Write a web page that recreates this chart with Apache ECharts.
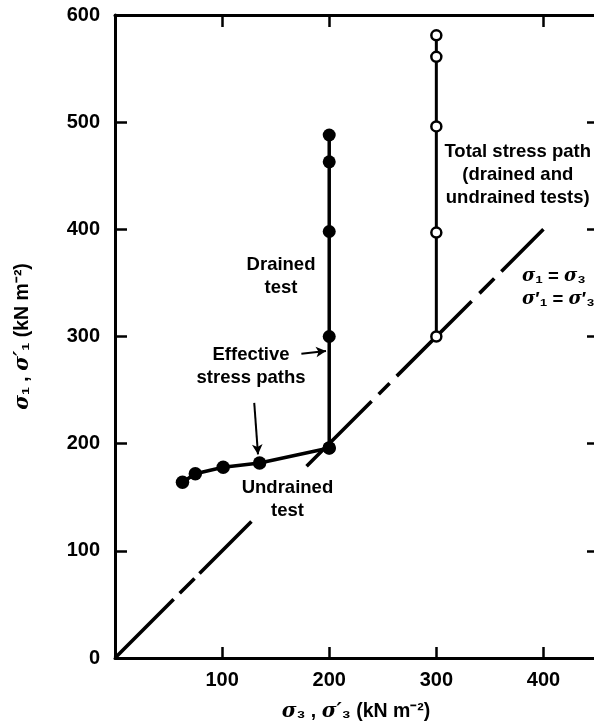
<!DOCTYPE html>
<html><head><meta charset="utf-8">
<script src="https://cdn.jsdelivr.net/npm/echarts@6/dist/echarts.min.js"></script>
<style>html,body{margin:0;padding:0;background:#fff}#c{width:594px;height:721px}</style>
</head><body><div id="c"></div>
<script>
// ---- data ----
const xTickLabels = [100, 200, 300, 400];
const bottomTicks = [0, 100, 200, 300, 400];
const yTickLabels = [0, 100, 200, 300, 400, 500, 600];
const drainedX = [200, 200, 200, 200, 200];
const drainedY = [196, 300, 398, 463, 488];
const undrainedX = [63, 75, 101, 135, 200];
const undrainedY = [164, 172, 178, 182, 196];
const totalX = [300, 300, 300, 300, 300];
const totalY = [300, 397, 496, 561, 581];
const diagX = [0, 400];
const diagY = [0, 400];
const topTicks = [100, 200, 400];
const rightTicks = [100, 200, 300, 400, 500];
const noteTexts = ['Drained\ntest', 'Effective\nstress paths', 'Undrained\ntest',
  'Total stress path\n(drained and\nundrained tests)', '{i|σ}₁ = {i|σ}₃\n{i|σ}′₁ = {i|σ}′₃'];
const noteX = [155, 127, 161, 376, 380];
const noteY = [356, 272, 148, 451, 345];
const arrowFromX = [174, 130];
const arrowFromY = [284, 238];
const arrowToX = [197, 133.5];
const arrowToY = [286.5, 190];

const zip = (a, b) => a.map((v, i) => [v, b[i]]);
const FONT = 'Liberation Sans';
const chart = echarts.init(document.getElementById('c'));
const mkLine = () => ({ show: true, onZero: false, lineStyle: { color: '#000', width: 3 } });
const tickStyle = { color: '#000', width: 2.5 };
const labelStyle = { color: '#000', fontSize: 20, fontWeight: 'bold', fontFamily: FONT };
const nameStyle = { color: '#000', fontSize: 19.5, fontWeight: 'bold', fontFamily: FONT,
  rich: { i: { fontStyle: 'italic', fontSize: 20, fontWeight: 'bold', fontFamily: 'DejaVu Serif' } } };
// hand-drawn style dash pattern of the 45-degree line (px)
const diagDash = [83, 8.5, 21, 7, 73.5, 78, 92, 10, 15.5, 10, 106, 11, 21, 10, 80, 40];

chart.setOption({
  animation: false,
  backgroundColor: '#fff',
  grid: { left: 115, right: -3, top: 15, bottom: 63, containLabel: false, outerBoundsMode: 'none' },
  xAxis: [{
    type: 'value', position: 'bottom', min: 0, max: 450, interval: 100,
    axisLine: mkLine(), axisTick: { inside: true, length: 11, lineStyle: tickStyle, customValues: bottomTicks },
    axisLabel: Object.assign({ margin: 12, customValues: xTickLabels }, labelStyle),
    splitLine: { show: false },
    name: '{i|σ}₃ , {i|σ′}₃ (kN m⁻²)', nameLocation: 'middle', nameGap: 44,
    nameTextStyle: nameStyle
  }, {
    type: 'value', position: 'top', min: 0, max: 450, interval: 100,
    axisLine: mkLine(), axisTick: { inside: true, length: 12, lineStyle: tickStyle, customValues: topTicks },
    axisLabel: { show: false }, splitLine: { show: false }
  }],
  yAxis: [{
    type: 'value', position: 'left', min: 0, max: 600, interval: 100,
    axisLine: mkLine(), axisTick: { inside: true, length: 12, lineStyle: tickStyle },
    axisLabel: Object.assign({ margin: 15, customValues: yTickLabels }, labelStyle),
    splitLine: { show: false },
    name: '{i|σ}₁ , {i|σ′}₁ (kN m⁻²)', nameLocation: 'middle', nameGap: 82,
    nameTextStyle: nameStyle
  }, {
    type: 'value', position: 'right', min: 0, max: 600, interval: 100,
    axisLine: mkLine(), axisTick: { inside: true, length: 10, lineStyle: tickStyle, customValues: rightTicks },
    axisLabel: { show: false }, splitLine: { show: false }
  }],
  series: [{
    type: 'line', data: zip(diagX, diagY), symbol: 'none', z: 1,
    lineStyle: { color: '#000', width: 3.6, type: diagDash, cap: 'butt' }
  }, {
    type: 'line', data: zip(undrainedX, undrainedY), symbol: 'circle', symbolSize: 13.5, z: 3,
    itemStyle: { color: '#000' }, lineStyle: { color: '#000', width: 3.5 },
    markLine: {
      silent: true, symbol: ['none', 'arrow'], symbolSize: [8, 10],
      lineStyle: { color: '#000', width: 2, type: 'solid' }, label: { show: false },
      data: arrowFromX.map((x, i) => [{ coord: [x, arrowFromY[i]] }, { coord: [arrowToX[i], arrowToY[i]] }])
    }
  }, {
    type: 'line', data: zip(drainedX, drainedY), symbol: 'circle', symbolSize: 13, z: 3,
    itemStyle: { color: '#000' }, lineStyle: { color: '#000', width: 3.5 }
  }, {
    type: 'line', data: zip(totalX, totalY), symbol: 'circle', symbolSize: 10, z: 3,
    itemStyle: { color: '#fff', borderColor: '#000', borderWidth: 2.5 },
    lineStyle: { color: '#000', width: 3 }
  }]
});

const aligns = ['center', 'center', 'center', 'center', 'left'];
chart.setOption({
  graphic: noteTexts.map((t, i) => {
    const p = chart.convertToPixel({ gridIndex: 0 }, [noteX[i], noteY[i]]);
    return {
      type: 'text', x: p[0], y: p[1], z: 10,
      style: {
        text: t, fill: '#000', fontSize: 18.5, fontWeight: 'bold', fontFamily: FONT,
        lineHeight: 23, align: aligns[i], verticalAlign: 'middle',
        rich: { i: { fontStyle: 'italic', fontSize: 18, fontWeight: 'bold', fontFamily: 'DejaVu Serif', lineHeight: 21 } }
      }
    };
  })
});
</script></body></html>
